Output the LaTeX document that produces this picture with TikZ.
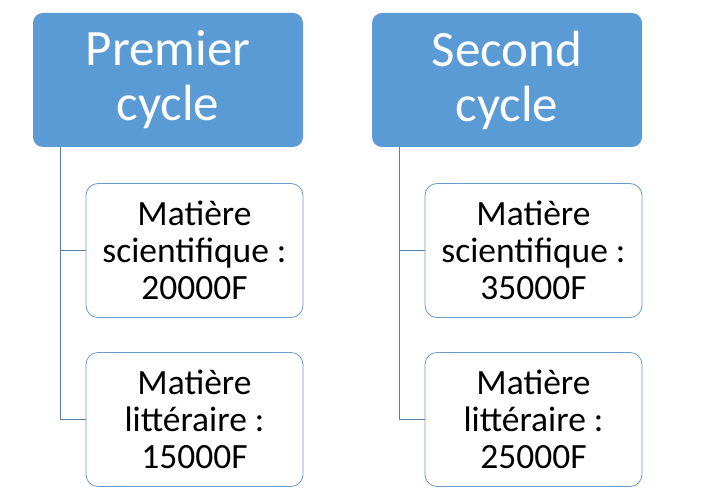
\documentclass[tikz,border=0pt]{standalone}
\usepackage{fontspec}
\setmainfont{Carlito}
\definecolor{headblue}{HTML}{5B9BD5}
\definecolor{edgeblue}{HTML}{6A9BCB}
\definecolor{linkblue}{HTML}{5A7FA8}
\begin{document}
\begin{tikzpicture}[x=1pt,y=-1pt,
  headbox/.style={draw=none,fill=headblue,rounded corners=10pt,
    minimum width=270pt,minimum height=134pt,inner sep=0pt,
    text=white,align=center,font=\fontsize{51}{55}\selectfont},
  itembox/.style={draw=edgeblue,line width=0.8pt,fill=white,rounded corners=12pt,
    minimum width=217pt,minimum height=134pt,inner sep=0pt,
    text=black,align=center,font=\fontsize{35.5}{37}\selectfont},
  link/.style={draw=linkblue,line width=0.9pt}]
\useasboundingbox (0,0) rectangle (702,502);
\fill[white] (0,0) rectangle (702,502);

% first column
\node[headbox] (h1) at (168,80) {Premier\\cycle};
\node[itembox] (a1) at (194.5,250.5) {Matière\\scientifique :\\20000F};
\node[itembox] (a2) at (194.5,419.5) {Matière\\littéraire :\\15000F};
\coordinate (s1) at (60,147);
\draw[link] (s1) |- (a1.west);
\draw[link] (s1) |- (a2.west);

% second column
\node[headbox] (h2) at (507,80) {Second\\cycle};
\node[itembox] (b1) at (533.5,250.5) {Matière\\scientifique :\\35000F};
\node[itembox] (b2) at (533.5,419.5) {Matière\\littéraire :\\25000F};
\coordinate (s2) at (399,147);
\draw[link] (s2) |- (b1.west);
\draw[link] (s2) |- (b2.west);
\end{tikzpicture}
\end{document}
